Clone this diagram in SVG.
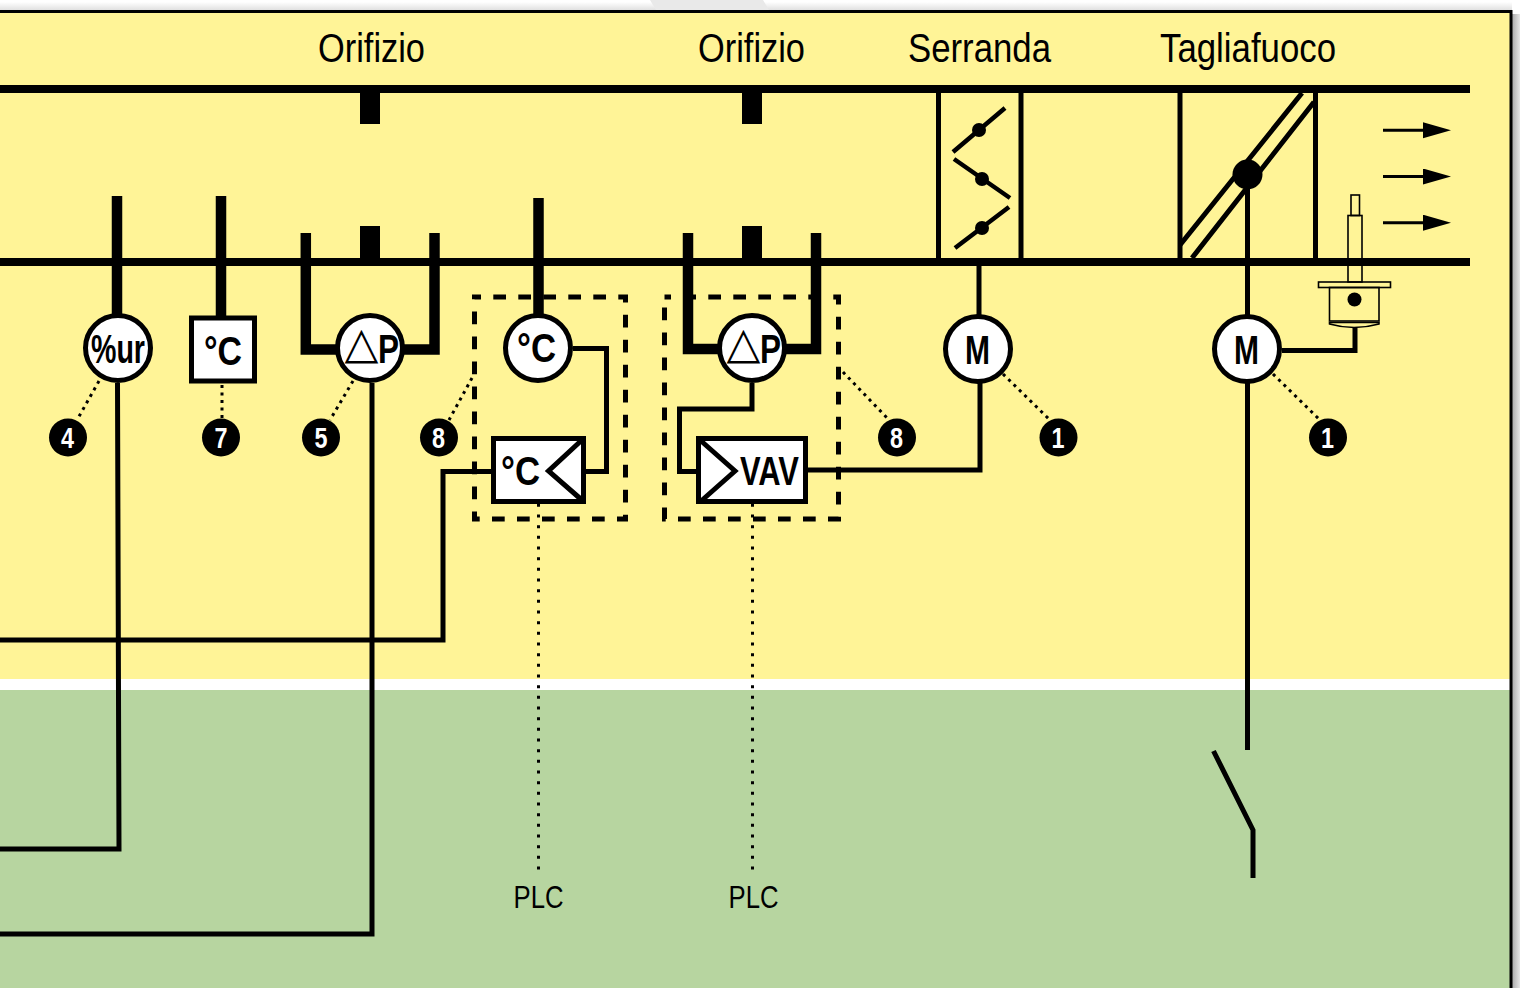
<svg xmlns="http://www.w3.org/2000/svg" width="1520" height="988" viewBox="0 0 1520 988">
<style>
.w{fill:none;stroke:#000;stroke-width:5;stroke-linejoin:miter}
.t{fill:none;stroke:#000;stroke-width:8}
.k{fill:none;stroke:#000;stroke-width:10.5;stroke-linejoin:miter}
.h{fill:none;stroke:#000;stroke-width:10.5}
.d{fill:none;stroke:#000;stroke-width:3;stroke-dasharray:3 4.5}
.e{fill:none;stroke:#000;stroke-width:3;stroke-dasharray:3 7.667}
.b{fill:none;stroke:#000;stroke-width:5;stroke-dasharray:12.7 12.3;stroke-dashoffset:6.2}
.n{fill:#fff;stroke:#000;stroke-width:5}
.m{fill:#fff;font:bold 30px "Liberation Sans",sans-serif}
.l{fill:#000;font:bold 40px "Liberation Sans",sans-serif}
.x{fill:#000;font:40px "Liberation Sans",sans-serif}
.p{fill:#000;font:32px "Liberation Sans",sans-serif}
.a{fill:none;stroke:#000;stroke-width:1.6}
.f{fill:#000}
.g{font:44px "DejaVu Sans",sans-serif}
</style>
<defs>
<linearGradient id="sh" x1="0" x2="1" y1="0" y2="0"><stop offset="0" stop-color="#aaa"/><stop offset="1" stop-color="#e6e6e6"/></linearGradient>
<linearGradient id="st" x1="0" x2="0" y1="0" y2="1"><stop offset="0" stop-color="#fff"/><stop offset="1" stop-color="#ddd"/></linearGradient>
<marker id="ah" markerUnits="userSpaceOnUse" markerWidth="30" markerHeight="18" refX="0" refY="8" orient="auto"><path d="M0 0L28 8L0 16Z" fill="#000"/></marker>
</defs>
<rect width="1520" height="988" fill="#fff"/>
<rect x="0" y="2" width="1512" height="9" fill="url(#st)"/>
<path d="M650 0H763L769 10H656Z" fill="#e9e9e9"/>
<rect x="1512" y="14" width="8" height="974" fill="url(#sh)"/>
<rect x="0" y="11" width="1511" height="668" fill="#fff497"/>
<rect x="0" y="679" width="1511" height="11" fill="#fff"/>
<rect x="0" y="690" width="1511" height="298" fill="#b7d5a0"/>
<path d="M0 11.500H1511V988" fill="none" stroke="#000" stroke-width="3"/>

<g id="connectors">
<path class="w" d="M117.500 383L119 849H0"/>
<path class="w" d="M372 383V934H0"/>
<path class="w" d="M491 471.500H443V640H0"/>
<path class="w" d="M573 348.500H606.500V471.500H586"/>
<path class="w" d="M752 383V409H679.500V471.500H696"/>
<path class="w" d="M808 470H980V383"/>
<path class="w" d="M979 266V315"/>
<path class="w" d="M1247.500 175V750"/>
<path class="w" d="M1282 350.500H1355V328"/>
<path class="d" d="M99 381L77 420"/>
<path class="d" d="M222 385V418"/>
<path class="d" d="M353 381L330 420"/>
<path class="d" d="M472 378L449 420"/>
<path class="d" d="M843 372L889 420"/>
<path class="d" d="M1003 374L1050 420"/>
<path class="d" d="M1273 374L1320 420"/>
<path class="e" d="M538.500 503.800V870"/>
<path class="e" d="M752.500 503.800V870"/>
</g>

<g id="duct">
<path class="t" d="M0 89H1470M0 262H1470"/>
<path class="f" d="M360 93h20v31h-20zM360 226h20v32h-20zM742 93h20v31h-20zM742 226h20v32h-20z"/>
<path class="h" d="M117 196V315M221 196V316M538.500 198V315"/>
<path class="k" d="M305.800 233V349.500H340M434.500 233V349.500H400"/>
<path class="k" d="M688 233V349H722M816 233V349H782"/>
</g>

<g id="frame-box-1"><rect class="b" x="474.500" y="297" width="151" height="222"/></g>
<g id="frame-box-2"><rect class="b" x="664.500" y="297" width="174" height="222"/></g>

<g id="serranda">
<path class="w" d="M938.500 93V258M1021 93V258"/>
<path fill="none" stroke="#000" stroke-width="4.500" d="M953 152L1005 108M954 159L1010 198M955 248L1009 207"/>
<circle class="f" cx="979" cy="130" r="7"/><circle class="f" cx="982" cy="179" r="7"/><circle class="f" cx="982" cy="228" r="7"/>
</g>

<g id="tagliafuoco">
<path class="w" d="M1180 93V258M1315.500 93V258"/>
<path class="w" d="M1180 245L1302 93M1192 258L1314 102"/>
<circle class="f" cx="1247.500" cy="174.500" r="15"/>
</g>

<g id="arrows">
<path fill="none" stroke="#000" stroke-width="3" marker-end="url(#ah)" d="M1383 130.300H1423"/>
<path fill="none" stroke="#000" stroke-width="3" marker-end="url(#ah)" d="M1383 176.500H1423"/>
<path fill="none" stroke="#000" stroke-width="3" marker-end="url(#ah)" d="M1383 222.700H1423"/>
</g>

<g id="actuator">
<rect class="a" x="1351" y="195" width="8.500" height="20.500"/>
<rect class="a" x="1348" y="215.500" width="14" height="66.500"/>
<rect class="a" x="1318.500" y="282" width="72" height="5.500"/>
<rect class="a" x="1329.500" y="287.500" width="49.500" height="33.500"/>
<path class="a" d="M1329.500 322.500H1379V324Q1354 331 1329.500 324Z"/>
<circle class="f" cx="1354.500" cy="299.500" r="7"/>
</g>

<g id="node-ur"><circle class="n" cx="118" cy="348" r="32.500"/><text class="l" x="91" y="363" textLength="54" lengthAdjust="spacingAndGlyphs">%ur</text></g>
<g id="node-temp"><rect class="n" x="191.500" y="318" width="63" height="63"/><text class="l" x="204" y="365" textLength="38" lengthAdjust="spacingAndGlyphs">°C</text></g>
<g id="node-dp1"><circle class="n" cx="370" cy="348" r="32.500"/><text class="l" x="344.500" y="358"><tspan class="g">△</tspan><tspan x="378" y="363" textLength="21" lengthAdjust="spacingAndGlyphs">P</tspan></text></g>
<g id="node-temp2"><circle class="n" cx="538" cy="348" r="32.500"/><text class="l" x="517" y="362" textLength="39" lengthAdjust="spacingAndGlyphs">°C</text></g>
<g id="node-actuator-c"><rect class="n" x="493.500" y="438.500" width="90" height="63"/><path class="w" d="M583 439L548.500 471L583 501"/><text class="l" x="501" y="485" textLength="39" lengthAdjust="spacingAndGlyphs">°C</text></g>
<g id="node-dp2"><circle class="n" cx="752" cy="348" r="32.500"/><text class="l" x="726.500" y="358"><tspan class="g">△</tspan><tspan x="760" y="363" textLength="21" lengthAdjust="spacingAndGlyphs">P</tspan></text></g>
<g id="node-vav"><rect class="n" x="698.500" y="438.500" width="107" height="63"/><path class="w" d="M700 440L735 471L700 502"/><text class="l" x="740" y="485" textLength="59" lengthAdjust="spacingAndGlyphs">VAV</text></g>
<g id="node-m1"><circle class="n" cx="978" cy="349" r="32.500"/><text class="l" x="965" y="364" textLength="25" lengthAdjust="spacingAndGlyphs">M</text></g>
<g id="node-m2"><circle class="n" cx="1247" cy="349" r="32.500"/><text class="l" x="1234" y="364" textLength="25" lengthAdjust="spacingAndGlyphs">M</text></g>

<g id="switch"><path class="w" d="M1213.500 751L1253 830V878"/></g>

<g id="badge-4"><circle class="f" cx="68" cy="437.500" r="19"/><text class="m" x="61" y="448" textLength="13" lengthAdjust="spacingAndGlyphs">4</text></g>
<g id="badge-7"><circle class="f" cx="221" cy="437.500" r="19"/><text class="m" x="214.500" y="448" textLength="13" lengthAdjust="spacingAndGlyphs">7</text></g>
<g id="badge-5"><circle class="f" cx="321" cy="437.500" r="19"/><text class="m" x="314.500" y="448" textLength="13" lengthAdjust="spacingAndGlyphs">5</text></g>
<g id="badge-8a"><circle class="f" cx="439" cy="437.500" r="19"/><text class="m" x="432" y="448" textLength="13" lengthAdjust="spacingAndGlyphs">8</text></g>
<g id="badge-8b"><circle class="f" cx="897" cy="437.500" r="19"/><text class="m" x="890" y="448" textLength="13" lengthAdjust="spacingAndGlyphs">8</text></g>
<g id="badge-1a"><circle class="f" cx="1058.500" cy="437.500" r="19"/><text class="m" x="1051.500" y="448" textLength="13" lengthAdjust="spacingAndGlyphs">1</text></g>
<g id="badge-1b"><circle class="f" cx="1328" cy="437.500" r="19"/><text class="m" x="1321" y="448" textLength="13" lengthAdjust="spacingAndGlyphs">1</text></g>

<g id="labels">
<text class="x" x="318" y="62" textLength="107" lengthAdjust="spacingAndGlyphs">Orifizio</text>
<text class="x" x="698" y="62" textLength="107" lengthAdjust="spacingAndGlyphs">Orifizio</text>
<text class="x" x="908" y="62" textLength="143" lengthAdjust="spacingAndGlyphs">Serranda</text>
<text class="x" x="1160" y="62" textLength="176" lengthAdjust="spacingAndGlyphs">Tagliafuoco</text>
<text class="p" x="513.500" y="907.500" textLength="50" lengthAdjust="spacingAndGlyphs">PLC</text>
<text class="p" x="728.500" y="907.500" textLength="50" lengthAdjust="spacingAndGlyphs">PLC</text>
</g>
</svg>
